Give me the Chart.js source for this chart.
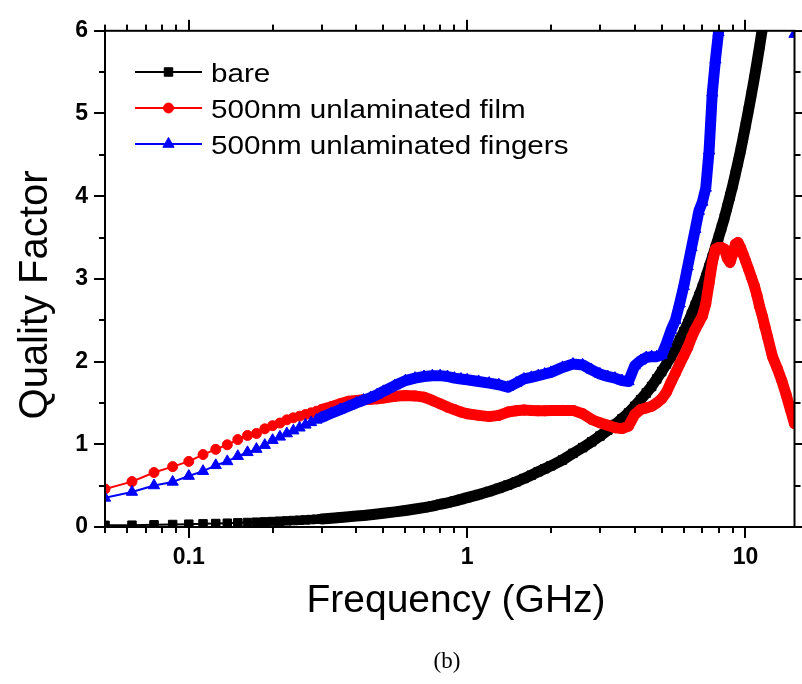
<!DOCTYPE html>
<html>
<head>
<meta charset="utf-8">
<script src="https://cdn.jsdelivr.net/npm/chart.js@4.4.1/dist/chart.umd.min.js"></script>
<style>
  html, body { margin: 0; padding: 0; background: #fff; }
</style>
</head>
<body>
<canvas id="graficoQ" width="802" height="684"></canvas>
<script>
// Frecuencia (GHz)
const freq = [
  0.05, 0.0625, 0.075, 0.0875, 0.1, 0.1125, 0.125, 0.1375, 0.15, 0.1625,
  0.175, 0.1875, 0.2, 0.2125, 0.225, 0.2375, 0.25, 0.2625, 0.275, 0.2875,
  0.3, 0.325, 0.35, 0.375, 0.4, 0.425, 0.45, 0.475, 0.5, 0.55,
  0.6, 0.65, 0.7, 0.75, 0.8, 0.85, 0.9, 0.95, 1.0, 1.1,
  1.2, 1.3, 1.4, 1.5, 1.6, 1.7, 1.8, 1.9, 2.0, 2.2,
  2.4, 2.6, 2.8, 3.0, 3.2, 3.4, 3.6, 3.8, 4.0, 4.2,
  4.4, 4.6, 4.8, 5.0, 5.2, 5.4, 5.6, 5.8, 6.0, 6.2,
  6.4, 6.6, 6.8, 7.0, 7.2, 7.4, 7.6, 7.8, 8.0, 8.2,
  8.4, 8.6, 8.8, 9.0, 9.2, 9.4, 9.6, 9.8, 10.0, 10.25,
  10.5, 10.75, 11.0, 11.25, 11.5, 11.75, 12.0, 12.5, 13.0, 13.5,
  14.0, 14.5, 15.0
];

const qBare = [
  0.02, 0.022, 0.026, 0.03, 0.034, 0.038, 0.042, 0.046, 0.05, 0.054,
  0.058, 0.062, 0.066, 0.07, 0.074, 0.078, 0.082, 0.086, 0.09, 0.094,
  0.098, 0.106, 0.115, 0.123, 0.132, 0.14, 0.149, 0.157, 0.166, 0.183,
  0.2, 0.218, 0.235, 0.253, 0.275, 0.293, 0.313, 0.334, 0.355, 0.392,
  0.43, 0.468, 0.507, 0.546, 0.586, 0.627, 0.668, 0.705, 0.74, 0.81,
  0.89, 0.96, 1.03, 1.1, 1.17, 1.24, 1.31, 1.38, 1.46, 1.54,
  1.62, 1.7, 1.79, 1.88, 1.97, 2.06, 2.16, 2.26, 2.36, 2.46,
  2.57, 2.68, 2.79, 2.9, 3.02, 3.14, 3.26, 3.38, 3.5, 3.62,
  3.74, 3.87, 4.0, 4.13, 4.27, 4.41, 4.55, 4.7, 4.85, 5.04,
  5.23, 5.42, 5.62, 5.82, 6.03, 6.25, 6.45, 6.9, 7.3, 7.7,
  8.1, 8.5, 8.9
];

const qFilm = [
  0.46, 0.549, 0.659, 0.73, 0.793, 0.876, 0.939, 0.994, 1.057, 1.107,
  1.131, 1.187, 1.225, 1.257, 1.296, 1.32, 1.34, 1.36, 1.38, 1.4,
  1.42, 1.455, 1.49, 1.52, 1.53, 1.54, 1.545, 1.55, 1.56, 1.58,
  1.59, 1.585, 1.57, 1.53, 1.49, 1.45, 1.42, 1.39, 1.37, 1.35,
  1.335, 1.35, 1.39, 1.405, 1.415, 1.41, 1.405, 1.405, 1.41, 1.41,
  1.41, 1.37, 1.3, 1.26, 1.23, 1.2, 1.19, 1.22, 1.36, 1.42,
  1.44, 1.46, 1.5, 1.55, 1.63, 1.75, 1.86, 1.97, 2.07, 2.17,
  2.29, 2.39, 2.47, 2.55, 2.7, 2.95, 3.2, 3.36, 3.38, 3.38,
  3.36, 3.25, 3.2, 3.3, 3.42, 3.44, 3.38, 3.3, 3.22, 3.12,
  3.02, 2.92, 2.8, 2.66, 2.55, 2.42, 2.3, 2.06, 1.92, 1.77,
  1.6, 1.42, 1.25
];

const qFingers = [
  0.352, 0.423, 0.502, 0.545, 0.616, 0.675, 0.746, 0.793, 0.856, 0.903,
  0.942, 0.99, 1.05, 1.09, 1.13, 1.165, 1.2, 1.235, 1.265, 1.295,
  1.325, 1.375, 1.42, 1.46, 1.5, 1.535, 1.565, 1.6, 1.64, 1.71,
  1.77, 1.8, 1.82, 1.83, 1.83, 1.82, 1.8, 1.79, 1.78, 1.76,
  1.74, 1.72, 1.69, 1.74, 1.79, 1.81, 1.83, 1.85, 1.87, 1.93,
  1.97, 1.96, 1.9, 1.85, 1.82, 1.8, 1.77, 1.76, 1.95, 2.01,
  2.05, 2.06, 2.06, 2.08, 2.22, 2.38, 2.5, 2.7, 2.91, 3.15,
  3.38, 3.6, 3.82, 3.93, 4.1, 4.55, 5.25, 5.65, 5.98, 6.3,
  null, null, null, null, null, null, null, null, null, null,
  null, null, null, null, null, null, null, null, null, null,
  null, null, 5.96
];

// marcas del eje x (log); solo estas llevan etiqueta
const xTicks = [
  0.05, 0.06, 0.07, 0.08, 0.09,
  0.1, 0.2, 0.3, 0.4, 0.5, 0.6, 0.7, 0.8, 0.9,
  1, 2, 3, 4, 5, 6, 7, 8, 9,
  10
];
const xTickLabels = ['0.1', '1', '10'];

function serie(label, valores, color, forma, radio, orden) {
  return {
    label: label,
    data: freq.map((f, i) => ({ x: f, y: valores[i] })),
    borderColor: color,
    backgroundColor: color,
    pointStyle: forma,
    pointRadius: radio,
    pointBorderWidth: 1,
    pointBorderColor: color,
    pointBackgroundColor: color,
    borderWidth: 2,
    borderJoinStyle: 'round',
    borderCapStyle: 'round',
    // por encima de 0.3 GHz los puntos se amontonan y forman una banda gruesa
    segment: { borderWidth: c => (freq[c.p0DataIndex] >= 0.3 ? 11 : 2) },
    spanGaps: false,
    tension: 0,
    clip: 0,
    order: orden
  };
}

const etiquetaX = v => xTickLabels.find(l => Math.abs(v / Number(l) - 1) < 1e-6);

// marcas cortas del eje x dibujadas por el propio Chart.js
const rejillaX = {
  display: true,
  drawOnChartArea: false,
  drawTicks: true,
  tickLength: 6,
  tickWidth: 2,
  tickColor: '#000',
  color: '#000',
  lineWidth: 2
};

const marcoEjes = {
  id: 'marcoEjes',
  afterDatasetsDraw(chart) {
    const { ctx, chartArea: a, scales: { x, y } } = chart;
    ctx.save();
    ctx.fillStyle = '#000';
    ctx.strokeStyle = '#000';
    ctx.lineWidth = 2;
    ctx.strokeRect(a.left, a.top, a.right - a.left, a.bottom - a.top);
    // marcas del eje x, abajo y arriba (hacia fuera)
    xTicks.forEach(v => {
      const px = Math.round(x.getPixelForValue(v));
      const len = etiquetaX(v) ? 11 : 6;
      ctx.fillRect(px - 1, a.bottom, 2, len);
      ctx.fillRect(px - 1, a.top - len, 2, len);
    });
    // marcas del eje y, izquierda y derecha
    y.ticks.forEach(t => {
      const py = Math.round(y.getPixelForValue(t.value));
      const len = Number.isInteger(t.value) ? 11 : 6;
      ctx.fillRect(a.left - len, py - 1, len, 2);
      ctx.fillRect(a.right, py - 1, len, 2);
    });
    ctx.restore();
  },
  afterDraw(chart) {
    const ctx = chart.ctx;
    ctx.save();
    ctx.fillStyle = '#000';

    // titulo eje y
    ctx.font = '40px "Liberation Sans", Arial, sans-serif';
    ctx.textAlign = 'center';
    ctx.textBaseline = 'alphabetic';
    ctx.save();
    ctx.translate(47, 295);
    ctx.rotate(-Math.PI / 2);
    ctx.fillText('Quality Factor', 0, 0);
    ctx.restore();

    // titulo eje x
    ctx.font = '39px "Liberation Sans", Arial, sans-serif';
    ctx.fillText('Frequency (GHz)', 456, 612);

    // pie de figura
    ctx.font = '23px "Liberation Serif", "Times New Roman", serif';
    ctx.fillText('(b)', 447, 668);

    // leyenda: linea + marcador + texto
    ctx.textAlign = 'left';
    chart.data.datasets.forEach((ds, i) => {
      const yy = 72 + i * 36;
      ctx.strokeStyle = ds.borderColor;
      ctx.fillStyle = ds.borderColor;
      ctx.lineWidth = 2;
      ctx.beginPath();
      ctx.moveTo(135, yy);
      ctx.lineTo(202, yy);
      ctx.stroke();
      ctx.lineWidth = 1;
      Chart.helpers.drawPoint(ctx, {
        pointStyle: ds.pointStyle, radius: ds.pointRadius, borderWidth: 1, rotation: 0
      }, 168.5, yy);
      ctx.fillStyle = '#000';
      ctx.font = '26px "Liberation Sans", Arial, sans-serif';
      ctx.save();
      ctx.translate(211, yy + 9.5);
      ctx.scale(1.14, 1);
      ctx.fillText(ds.label, 0, 0);
      ctx.restore();
    });
    ctx.restore();
  }
};

const ctx = document.getElementById('graficoQ').getContext('2d');
const graficoQ = new Chart(ctx, {
  type: 'line',
  data: {
    datasets: [
      serie('bare', qBare, '#000000', 'rect', 6, 3),
      serie('500nm unlaminated film', qFilm, '#ff0000', 'circle', 5, 2),
      serie('500nm unlaminated fingers', qFingers, '#0000ff', 'triangle', 6.5, 1)
    ]
  },
  options: {
    responsive: false,
    devicePixelRatio: 1,
    animation: false,
    layout: { padding: { top: 18, right: 5, left: 0, bottom: 0 } },
    scales: {
      x: {
        type: 'logarithmic',
        min: 0.05,
        max: 15,
        grid: rejillaX,
        border: { display: false },
        afterBuildTicks: s => {
          s.ticks = xTicks.map(v => ({ value: v, major: false }));
        },
        afterFit: s => { s.height = 157; },
        ticks: {
          autoSkip: false,
          maxRotation: 0,
          padding: 11,
          color: '#000',
          font: { family: '"Liberation Sans", Arial, sans-serif', size: 23, weight: 'bold' },
          callback: v => etiquetaX(v) || ''
        }
      },
      x2: {
        type: 'logarithmic',
        axis: 'x',
        position: 'top',
        min: 0.05,
        max: 15,
        grid: rejillaX,
        border: { display: false },
        afterBuildTicks: s => {
          s.ticks = xTicks.map(v => ({ value: v, major: false }));
        },
        afterFit: s => { s.height = 0; },
        ticks: { display: false, autoSkip: false }
      },
      y: {
        min: 0,
        max: 6,
        grid: { display: false, drawTicks: false },
        border: { display: false },
        afterFit: s => { s.width = 105; },
        ticks: {
          stepSize: 0.5,
          padding: 17,
          color: '#000',
          font: { family: '"Liberation Sans", Arial, sans-serif', size: 23, weight: 'bold' },
          callback: v => (Number.isInteger(v) ? String(v) : '')
        }
      }
    },
    plugins: {
      legend: { display: false },
      tooltip: { enabled: false }
    }
  },
  plugins: [marcoEjes]
});
</script>
</body>
</html>
